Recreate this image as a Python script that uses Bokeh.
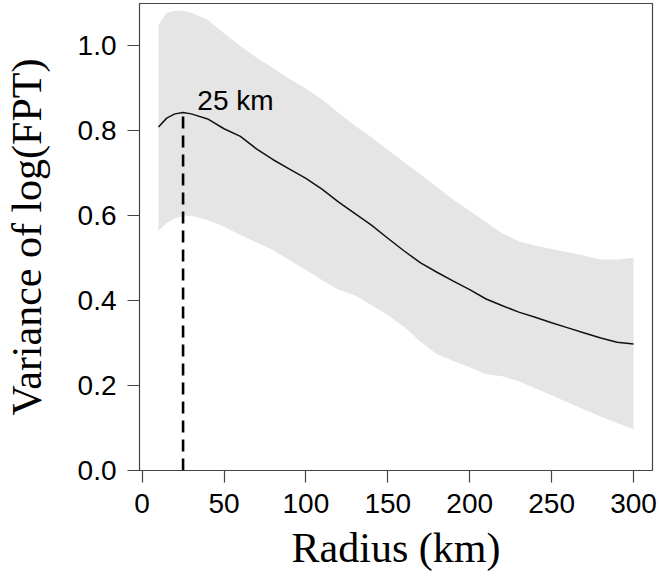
from bokeh.plotting import figure
from bokeh.models import Range1d, FixedTicker, ColumnDataSource
from bokeh.core.properties import value
from bokeh.embed import file_html
from bokeh.resources import INLINE

radius = [10, 15, 20, 25, 30, 40, 50, 60, 70, 80, 90, 100, 110, 120, 130, 140, 150,
          160, 170, 180, 190, 200, 210, 220, 230, 240, 250, 260, 270, 280, 290, 300]
var_mean = [0.809, 0.830, 0.840, 0.843, 0.840, 0.828, 0.805, 0.787, 0.757, 0.732, 0.710,
            0.688, 0.662, 0.632, 0.605, 0.578, 0.547, 0.517, 0.489, 0.467, 0.446, 0.426,
            0.404, 0.388, 0.373, 0.361, 0.348, 0.336, 0.324, 0.312, 0.302, 0.298]
var_upper = [1.050, 1.078, 1.083, 1.083, 1.078, 1.062, 1.030, 1.000, 0.972, 0.948, 0.922,
             0.900, 0.873, 0.842, 0.812, 0.785, 0.755, 0.726, 0.697, 0.668, 0.638, 0.612,
             0.585, 0.558, 0.540, 0.530, 0.522, 0.514, 0.506, 0.497, 0.497, 0.501]
var_lower = [0.564, 0.583, 0.594, 0.599, 0.600, 0.590, 0.574, 0.555, 0.537, 0.519, 0.495,
             0.472, 0.448, 0.426, 0.412, 0.389, 0.366, 0.338, 0.303, 0.274, 0.258, 0.243,
             0.227, 0.222, 0.210, 0.194, 0.177, 0.160, 0.143, 0.127, 0.112, 0.097]

x_ticks = [0, 50, 100, 150, 200, 250, 300]
y_ticks = [0.0, 0.2, 0.4, 0.6, 0.8, 1.0]
y_tick_labels = {0.0: "0.0", 0.2: "0.2", 0.4: "0.4", 0.6: "0.6", 0.8: "0.8", 1.0: "1.0"}

peak_radius = 25
peak_value = 0.843
annot_text = "25 km"
annot_x = 57
annot_y = 0.872

p = figure(width=657, height=576, output_backend="svg", toolbar_location=None,
           x_range=Range1d(-1.6, 311.6), y_range=Range1d(0, 1.1),
           min_border_left=137, min_border_right=5, min_border_top=3, min_border_bottom=106)

p.xgrid.visible = False
p.ygrid.visible = False
p.outline_line_color = "#444444"
p.outline_line_width = 1.2

src = ColumnDataSource(dict(x=radius, m=var_mean, lo=var_lower, hi=var_upper))
p.varea(x="x", y1="lo", y2="hi", source=src, fill_color="#e5e5e5")
p.line(x="x", y="m", source=src, line_color="#111111", line_width=1.5)
p.segment(x0=[peak_radius], y0=[0], x1=[peak_radius], y1=[peak_value],
          line_color="black", line_width=2.6, line_dash="12 7")
p.text(x=[annot_x], y=[annot_y], text=[annot_text], text_font=value("Liberation Sans"),
       text_font_size="28px", text_align="center", text_baseline="alphabetic",
       text_color="black")

for ax in (p.xaxis[0], p.yaxis[0]):
    ax.axis_line_color = None
    ax.major_tick_line_color = "#444444"
    ax.major_tick_line_width = 1.2
    ax.major_tick_in = 0
    ax.major_tick_out = 12
    ax.minor_tick_line_color = None
    ax.major_label_text_font = "Liberation Sans"
    ax.major_label_text_font_size = "28px"
    ax.major_label_text_color = "black"
    ax.axis_label_text_font = "Liberation Serif"
    ax.axis_label_text_font_size = "42px"
    ax.axis_label_text_font_style = "normal"
    ax.axis_label_text_color = "black"

p.xaxis.ticker = FixedTicker(ticks=x_ticks)
p.yaxis.ticker = FixedTicker(ticks=y_ticks)
p.yaxis.major_label_overrides = y_tick_labels
p.xaxis.major_label_standoff = 11
p.yaxis.major_label_standoff = 11
p.xaxis.axis_label = "Radius (km)"
p.yaxis.axis_label = "Variance of log(FPT)"
p.xaxis.axis_label_standoff = 9
p.yaxis.axis_label_standoff = 25

open("out.html", "w").write(file_html(p, INLINE))
